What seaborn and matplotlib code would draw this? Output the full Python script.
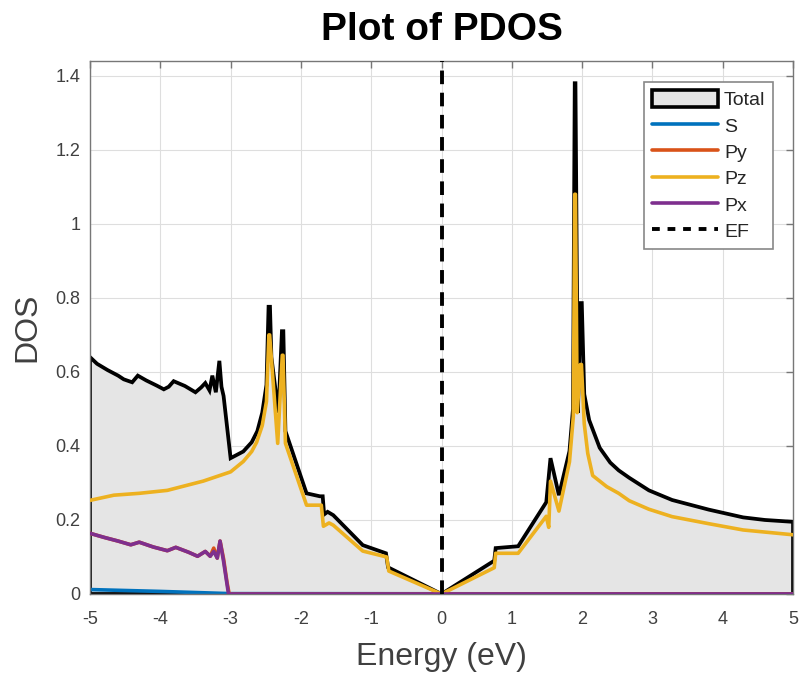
import numpy as np
import pandas as pd
import matplotlib
matplotlib.use("Agg")
import matplotlib.pyplot as plt
import seaborn as sns
from matplotlib.patches import Patch
from matplotlib.lines import Line2D
from matplotlib.ticker import FuncFormatter

# ---------------- data ----------------
E_total = [-5.00, -4.90, -4.75, -4.60, -4.52, -4.40, -4.32, -4.20, -4.05, -3.95,
           -3.88, -3.81, -3.65, -3.50, -3.42, -3.36, -3.30, -3.26, -3.21, -3.16,
           -3.13, -3.10, -3.00, -2.82, -2.70, -2.62, -2.55, -2.49, -2.46, -2.44,
           -2.42, -2.32, -2.27, -2.25, -2.22, -1.92, -1.73, -1.69, -1.67, -1.62,
           -1.54, -1.12, -0.79, -0.76, 0.00, 0.75, 0.77, 1.09, 1.49, 1.55,
           1.67, 1.82, 1.87, 1.895, 1.905, 1.94, 1.98, 1.995, 2.03, 2.10,
           2.25, 2.40, 2.52, 2.67, 2.95, 3.28, 3.80, 4.29, 4.60, 5.00]
dos_total = [0.640, 0.622, 0.605, 0.590, 0.580, 0.572, 0.590, 0.577, 0.563, 0.553,
             0.560, 0.575, 0.562, 0.545, 0.558, 0.570, 0.550, 0.590, 0.545, 0.630,
             0.560, 0.535, 0.367, 0.385, 0.410, 0.440, 0.490, 0.565, 0.776, 0.776,
             0.640, 0.490, 0.710, 0.710, 0.440, 0.272, 0.264, 0.264, 0.215, 0.222,
             0.213, 0.132, 0.110, 0.072, 0.000, 0.090, 0.124, 0.129, 0.248, 0.367,
             0.267, 0.386, 0.500, 1.380, 1.380, 0.490, 0.786, 0.786, 0.540, 0.470,
             0.395, 0.355, 0.334, 0.314, 0.280, 0.254, 0.228, 0.207, 0.200, 0.195]

E_pz = [-5.00, -4.66, -4.30, -3.90, -3.39, -3.00, -2.82, -2.70, -2.63, -2.55,
        -2.49, -2.455, -2.445, -2.33, -2.265, -2.255, -2.22, -1.92, -1.71, -1.68,
        -1.60, -1.54, -1.12, -0.78, -0.75, 0.00, 0.75, 0.77, 1.09, 1.49,
        1.525, 1.55, 1.67, 1.82, 1.875, 1.895, 1.905, 1.93, 1.975, 1.99,
        2.03, 2.08, 2.15, 2.35, 2.52, 2.67, 2.95, 3.28, 3.80, 4.29, 5.00]
dos_pz = [0.253, 0.267, 0.272, 0.280, 0.305, 0.330, 0.358, 0.385, 0.410, 0.455,
          0.520, 0.700, 0.700, 0.407, 0.645, 0.645, 0.407, 0.240, 0.240, 0.183,
          0.192, 0.186, 0.116, 0.100, 0.062, 0.000, 0.071, 0.110, 0.110, 0.210,
          0.180, 0.305, 0.224, 0.357, 0.480, 1.080, 1.080, 0.490, 0.620, 0.620,
          0.460, 0.380, 0.320, 0.290, 0.272, 0.252, 0.229, 0.209, 0.190, 0.173, 0.160]

E_px = [-5.00, -4.80, -4.60, -4.42, -4.30, -4.10, -3.90, -3.78, -3.60, -3.47,
        -3.36, -3.29, -3.24, -3.19, -3.15, -3.10, -3.03, 5.00]
dos_px = [0.164, 0.153, 0.143, 0.133, 0.140, 0.127, 0.117, 0.126, 0.113, 0.102,
          0.115, 0.102, 0.115, 0.097, 0.143, 0.088, 0.000, 0.000]

E_py = [-5.00, -4.80, -4.60, -4.42, -4.30, -4.10, -3.90, -3.78, -3.60, -3.47,
        -3.36, -3.29, -3.24, -3.19, -3.15, -3.10, -3.05, -3.02, 5.00]
dos_py = [0.164, 0.153, 0.143, 0.133, 0.140, 0.127, 0.117, 0.126, 0.113, 0.102,
          0.115, 0.102, 0.124, 0.097, 0.143, 0.095, 0.030, 0.000, 0.000]

E_s = [-5.00, -4.00, -3.00, 5.00]
dos_s = [0.012, 0.007, 0.001, 0.000]

E_fermi = 0.0

x_ticks = [-5, -4, -3, -2, -1, 0, 1, 2, 3, 4, 5]
y_ticks = [0, 0.2, 0.4, 0.6, 0.8, 1.0, 1.2, 1.4]

labels = ["Total", "S", "Py", "Pz", "Px", "EF"]
colors = {"S": "#0072BD", "Py": "#D95319", "Pz": "#EDB120", "Px": "#7E2F8E"}

# ---------------- style ----------------
sns.set_theme(style="whitegrid")
plt.rcParams["font.family"] = ["Liberation Sans", "DejaVu Sans"]

fig = plt.figure(figsize=(8, 6.75), dpi=100)
ax = fig.add_axes([0.1125, 0.12, 0.8788, 0.7896])
ax.set_axisbelow(True)

# total area (closed polygon with black outline)
ax.fill(list(E_total) + [E_total[-1], E_total[0]],
        list(dos_total) + [0.0, 0.0],
        facecolor="#e5e5e5", edgecolor="black", linewidth=2.7, zorder=1)

lw = 2.6
series = [("S", E_s, dos_s), ("Py", E_py, dos_py), ("Pz", E_pz, dos_pz), ("Px", E_px, dos_px)]
for i, (name, ex, dv) in enumerate(series):
    df = pd.DataFrame({"E": ex, "DOS": dv})
    sns.lineplot(data=df, x="E", y="DOS", color=colors[name], linewidth=lw,
                 estimator=None, sort=False, ax=ax, zorder=2 + i)

ax.axvline(E_fermi, color="black", linewidth=2.8, linestyle=(0, (3.5, 2.2)), zorder=7)

ax.set_xlim(-5, 5)
ax.set_ylim(0, 1.44)
ax.set_xticks(x_ticks)
ax.set_yticks(y_ticks)
ax.yaxis.set_major_formatter(FuncFormatter(lambda v, p: f"{v:g}"))
ax.xaxis.set_major_formatter(FuncFormatter(lambda v, p: f"{v:g}"))

ax.grid(True, color="#dedede", linewidth=0.8)
for sp in ax.spines.values():
    sp.set_color("#777777")
    sp.set_linewidth(1.0)
ax.tick_params(direction="in", length=5, width=1, color="#777777",
               top=True, right=True, labelsize=13, labelcolor="#404040")
ax.tick_params(axis="x", pad=12)
ax.tick_params(axis="y", pad=7)

ax.set_xlabel("Energy (eV)", fontsize=23, color="#404040", labelpad=10)
ax.set_ylabel("DOS", fontsize=23, color="#404040", labelpad=9)
ax.set_title("Plot of PDOS", fontsize=28, fontweight="bold", color="black", pad=15)

handles = [Patch(facecolor="#e5e5e5", edgecolor="black", linewidth=2.6)]
for name in ["S", "Py", "Pz", "Px"]:
    handles.append(Line2D([], [], color=colors[name], linewidth=lw))
handles.append(Line2D([], [], color="black", linewidth=2.8, linestyle=(0, (2.0, 2.0))))
leg = ax.legend(handles, labels, loc="upper right", bbox_to_anchor=(0.9716, 0.9606),
                borderaxespad=0, fontsize=14, frameon=True, fancybox=False,
                framealpha=1, edgecolor="#888888", handlelength=3.4, handleheight=1.0,
                handletextpad=0.3, labelspacing=0.36, borderpad=0.4)
leg.get_frame().set_linewidth(1.2)

fig.savefig("out.png", dpi=100)
